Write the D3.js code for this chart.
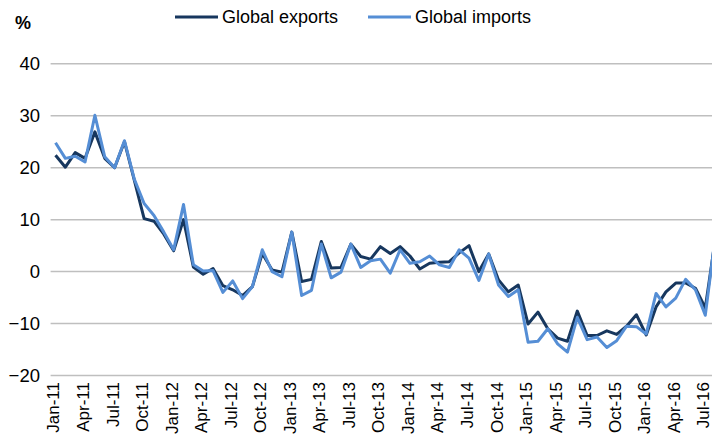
<!DOCTYPE html>
<html><head><meta charset="utf-8">
<script src="https://cdn.jsdelivr.net/npm/d3@7"></script>
<style>
html,body{margin:0;padding:0;background:#fff;}
svg{display:block;font-family:"Liberation Sans",Arial,sans-serif;}
</style></head>
<body><svg id="chart" width="712" height="448"></svg>
<script>
const monthNames = ["Jan","Feb","Mar","Apr","May","Jun","Jul","Aug","Sep","Oct","Nov","Dec"];
const years = ["11","12","13","14","15","16"];
const categories = [];
years.forEach(y => monthNames.forEach(m => categories.push(m + "-" + y)));
categories.splice(68); // Jan-11 .. Aug-16

const exportsSeries = [22.4,20.1,22.9,21.8,26.9,21.8,20.0,25.0,17.6,10.2,9.7,7.2,
  4.0,10.0,0.9,-0.5,0.6,-2.7,-3.5,-4.6,-2.9,3.5,0.3,-0.1,
  7.6,-1.9,-1.5,5.8,0.7,0.8,5.3,2.9,2.4,4.8,3.5,4.8,
  3.0,0.5,1.6,1.8,1.9,3.6,5.0,0.0,3.4,-1.6,-3.9,-2.6,
  -10.1,-7.8,-11.0,-12.8,-13.4,-7.6,-12.3,-12.3,-11.4,-12.1,-10.5,-8.3,
  -12.2,-6.8,-3.9,-2.2,-2.2,-3.2,-7.0,6.0];
const importsSeries = [24.8,21.8,22.2,21.1,30.1,22.1,20.0,25.2,17.8,13.1,10.8,7.6,
  4.2,12.9,1.3,0.1,0.2,-4.0,-1.8,-5.2,-2.9,4.2,0.0,-1.0,
  7.6,-4.6,-3.6,5.3,-1.2,-0.1,5.3,0.8,2.1,2.4,-0.3,4.2,
  1.6,1.9,3.0,1.3,0.8,4.2,2.6,-1.7,3.4,-2.6,-4.8,-3.5,
  -13.6,-13.4,-11.0,-13.9,-15.5,-8.8,-13.1,-12.6,-14.6,-13.3,-10.5,-10.6,
  -12.0,-4.2,-6.8,-5.1,-1.5,-3.5,-8.4,6.5];
const yTicks = [-20,-10,0,10,20,30,40];
const xTickLabels = categories.filter((d,i) => i % 3 === 0);
const seriesNames = ["Global exports","Global imports"];
const seriesColors = ["#17375E","#558ED5"];

const svg = d3.select("#chart");
const plotLeft = 50.6, bandW = 9.845;
const x = d3.scaleBand().domain(categories).range([plotLeft, plotLeft + bandW*categories.length]).padding(0);
const y = d3.scaleLinear().domain([-20,40]).range([375.5,63.8]);
const cx = d => x(d) + x.bandwidth()/2;

// gridlines
svg.append("g").selectAll("line").data(yTicks).join("line")
  .attr("x1", plotLeft).attr("x2", 720)
  .attr("y1", d => y(d)).attr("y2", d => y(d))
  .attr("stroke", "#BFBFBF").attr("stroke-width", 1.5);

// y axis labels
const yAxis = d3.axisLeft(y).tickValues(yTicks).tickSize(0).tickPadding(0).tickFormat(d3.format("d"));
const gy = svg.append("g").attr("transform", "translate(40,0)").call(yAxis);
gy.select(".domain").remove();
gy.selectAll("text").attr("font-size", 18.5).attr("fill", "#000")
  .attr("font-family", "'Liberation Sans',Arial,sans-serif");

// x axis labels
const xAxis = d3.axisBottom(x).tickValues(xTickLabels).tickSize(0).tickPadding(0);
const gx = svg.append("g").attr("transform", "translate(0,382)").call(xAxis);
gx.select(".domain").remove();
gx.selectAll("text")
  .attr("font-size", 17).attr("fill", "#000")
  .attr("font-family", "'Liberation Sans',Arial,sans-serif")
  .attr("text-anchor", "end")
  .attr("transform", "rotate(-90)")
  .attr("x", 0).attr("y", -2).attr("dy", "0.35em");

// lines
const line = d3.line().x((d,i) => cx(categories[i])).y(d => y(d));
[exportsSeries, importsSeries].forEach((s, k) => {
  svg.append("path").datum(s).attr("d", line)
    .attr("fill", "none").attr("stroke", seriesColors[k])
    .attr("stroke-width", 3).attr("stroke-linejoin", "round");
});

// % label
svg.append("text").attr("x", 15).attr("y", 29).attr("font-size", 18).attr("font-weight", "bold").text("%");

// legend
const legendX = [175, 368];
seriesNames.forEach((n, k) => {
  const g = svg.append("g");
  g.append("line").attr("x1", legendX[k]).attr("x2", legendX[k] + 43)
    .attr("y1", 17).attr("y2", 17).attr("stroke", seriesColors[k]).attr("stroke-width", 3);
  g.append("text").attr("x", legendX[k] + 47).attr("y", 17).attr("dy", "0.35em")
    .attr("font-size", 18).text(n);
});
</script></body></html>
